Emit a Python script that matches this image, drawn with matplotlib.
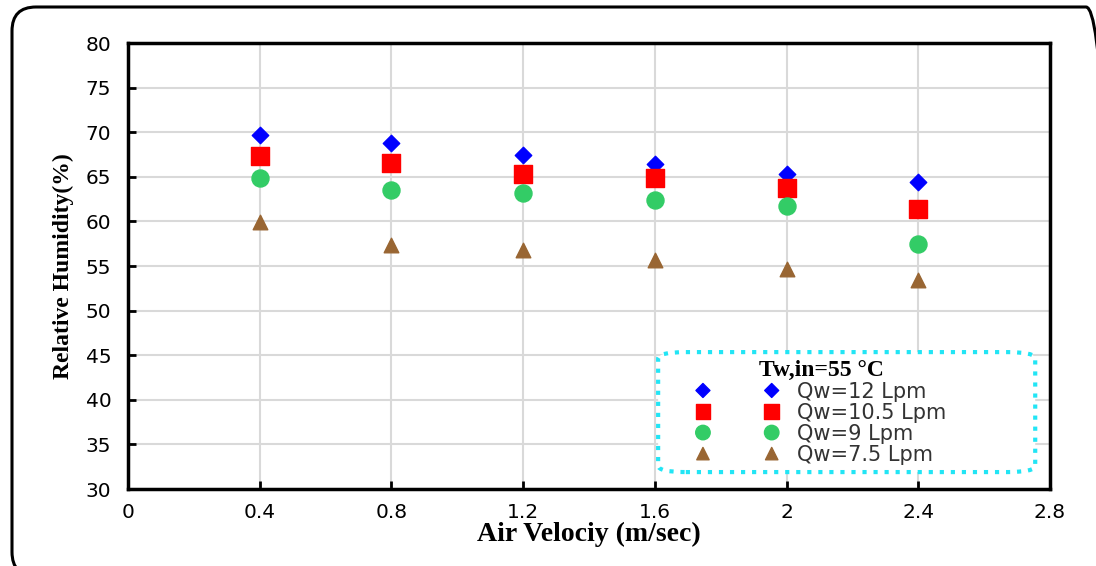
import matplotlib
matplotlib.use('Agg')
import matplotlib.pyplot as plt
from matplotlib.patches import FancyBboxPatch
from matplotlib.transforms import IdentityTransform

velocity = [0.4, 0.8, 1.2, 1.6, 2.0, 2.4]
rh_12 = [69.7, 68.8, 67.5, 66.4, 65.3, 64.4]
rh_105 = [67.3, 66.5, 65.3, 64.9, 63.7, 61.4]
rh_9 = [64.9, 63.5, 63.2, 62.4, 61.7, 57.5]
rh_75 = [59.9, 57.4, 56.8, 55.7, 54.7, 53.4]
labels = ['Qw=12 Lpm', 'Qw=10.5 Lpm', 'Qw=9 Lpm', 'Qw=7.5 Lpm']

fig = plt.figure(figsize=(10.96, 5.66), dpi=100)
ax = fig.add_axes([0.1168, 0.136, 0.8412, 0.788])

# rounded outer frame in pixels (cut off at right and bottom like the original)
frame = FancyBboxPatch((12, -10), 1098, 569, boxstyle='round,pad=0,rounding_size=24',
                       transform=IdentityTransform(), fill=False, lw=2.2, ec='black')
fig.patches.append(frame)

ax.scatter(velocity, rh_12, marker='D', s=70, c='#0000FF', label=labels[0], zorder=3)
ax.scatter(velocity, rh_105, marker='s', s=150, c='#FF0000', label=labels[1], zorder=3)
ax.scatter(velocity, rh_9, marker='o', s=150, c='#33CC66', label=labels[2], zorder=3)
ax.scatter(velocity, rh_75, marker='^', s=110, c='#996633', label=labels[3], zorder=3)

ax.set_xlim(0, 2.8)
ax.set_ylim(30, 80)
ax.set_xticks([0, 0.4, 0.8, 1.2, 1.6, 2, 2.4, 2.8])
ax.set_xticklabels(['0', '0.4', '0.8', '1.2', '1.6', '2', '2.4', '2.8'])
ax.set_yticks(range(30, 81, 5))
ax.tick_params(direction='in', length=6, width=2, labelsize=14.5, colors='black')
ax.tick_params(axis='x', pad=10)
ax.tick_params(axis='y', pad=12)
ax.grid(True, color='#D9D9D9', lw=1.5)
ax.set_axisbelow(True)
for s in ax.spines.values():
    s.set_linewidth(2.5)

ax.set_xlabel('Air Velociy (m/sec)', fontfamily='Liberation Serif', fontweight='bold', fontsize=20, labelpad=0)
ax.set_ylabel('Relative Humidity(%)', fontfamily='Liberation Serif', fontweight='bold', fontsize=17, labelpad=8)

# dotted cyan rounded box behind the legend
box = FancyBboxPatch((0.575, 0.038), 0.409, 0.269, boxstyle='round,pad=0,rounding_size=0.03',
                     transform=ax.transAxes, fc='white', ec='#22E5F5', lw=3, ls=':',
                     mutation_aspect=446 / 922, zorder=4)
ax.add_patch(box)

leg = ax.legend(title='Tw,in=55 °C', scatterpoints=2, scatteryoffsets=[0.5], loc='center',
                bbox_to_anchor=(0.752, 0.172), fontsize=15, frameon=False,
                labelspacing=0.05, handletextpad=0.9, handlelength=3.9,
                markerscale=0.85, borderpad=0)
leg.set_zorder(5)
leg.get_title().set_fontfamily('Liberation Serif')
leg.get_title().set_fontweight('bold')
leg.get_title().set_fontsize(17)
for t in leg.get_texts():
    t.set_color('#333333')

fig.savefig('out.png', dpi=100)
